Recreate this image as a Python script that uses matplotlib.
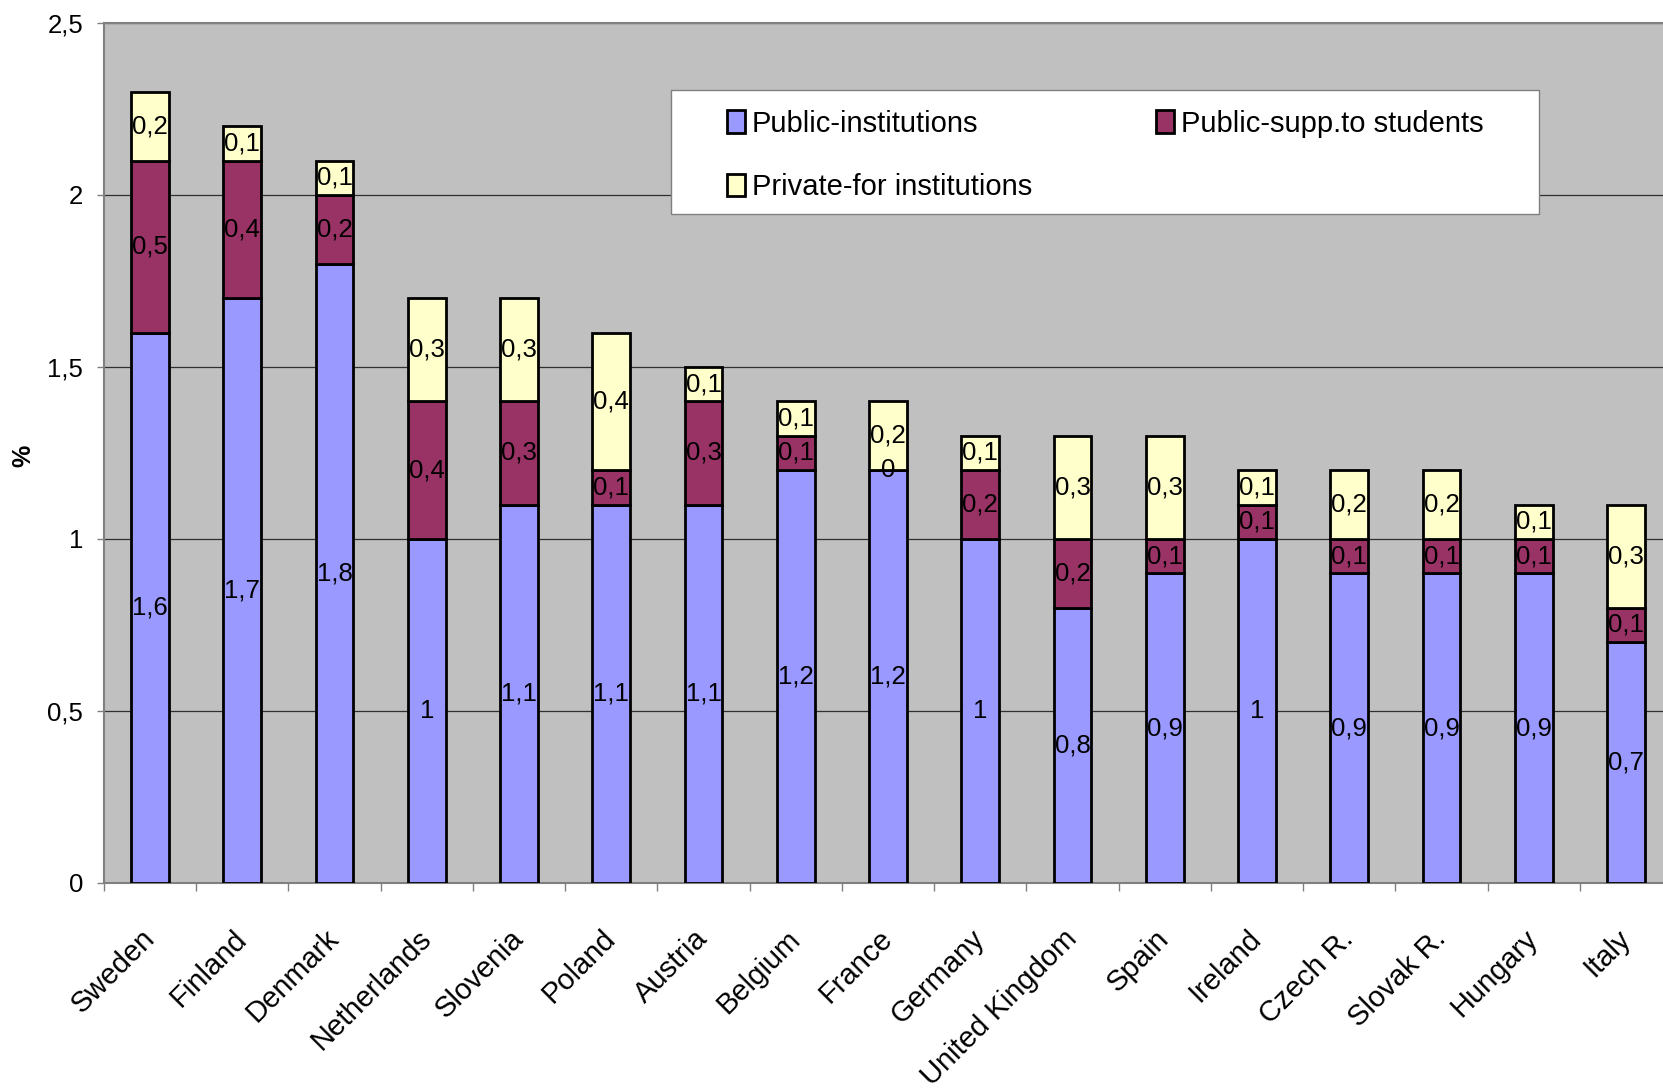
import numpy as np
import matplotlib
matplotlib.use("Agg")
import matplotlib.pyplot as plt
from matplotlib import font_manager
from matplotlib.patches import Rectangle, Patch
from matplotlib.ticker import FixedLocator, FuncFormatter

plt.rcParams['font.family'] = ['Liberation Sans', 'DejaVu Sans']

countries = ['Sweden', 'Finland', 'Denmark', 'Netherlands', 'Slovenia', 'Poland',
             'Austria', 'Belgium', 'France', 'Germany', 'United Kingdom', 'Spain',
             'Ireland', 'Czech R.', 'Slovak R.', 'Hungary', 'Italy']
public_inst = [1.6, 1.7, 1.8, 1.0, 1.1, 1.1, 1.1, 1.2, 1.2, 1.0, 0.8, 0.9, 1.0, 0.9, 0.9, 0.9, 0.7]
public_supp = [0.5, 0.4, 0.2, 0.4, 0.3, 0.1, 0.3, 0.1, 0.0, 0.2, 0.2, 0.1, 0.1, 0.1, 0.1, 0.1, 0.1]
private_inst = [0.2, 0.1, 0.1, 0.3, 0.3, 0.4, 0.1, 0.1, 0.2, 0.1, 0.3, 0.3, 0.1, 0.2, 0.2, 0.1, 0.3]

series_names = ['Public-institutions', 'Public-supp.to students', 'Private-for institutions']
colors = ['#9999FF', '#993366', '#FFFFCC']


def fmt(v):
    return f"{v:g}".replace('.', ',')


# narrow font for the legend if it is there
installed = {f.name for f in font_manager.fontManager.ttflist}
if 'Liberation Sans Narrow' in installed:
    leg_font = dict(family='Liberation Sans Narrow', size=25)
    leg_opts = dict(handlelength=0.52, handleheight=0.66, handletextpad=0.21,
                    labelspacing=0.62, columnspacing=3.86)
else:
    leg_font = dict(family='Liberation Sans', size=21)
    leg_opts = dict(handlelength=0.62, handleheight=0.8, handletextpad=0.25,
                    labelspacing=1.22, columnspacing=4.25)

fig = plt.figure(figsize=(16.63, 10.91), dpi=100)
ax = fig.add_axes([0.0625, 0.1907, 0.943, 0.7883])
ax.set_facecolor('#C0C0C0')

x = np.arange(len(countries))
width = 0.41
bottom = np.zeros(len(countries))
for vals, col in zip([public_inst, public_supp, private_inst], colors):
    vals = np.array(vals)
    ax.bar(x, vals, width, bottom=bottom, color=col, edgecolor='black',
           linewidth=2, zorder=3)
    for xi, b, v in zip(x, bottom, vals):
        ax.text(xi, b + v / 2, fmt(v), ha='center', va='center',
                fontsize=18.5, color='black', zorder=4)
    bottom = bottom + vals

ax.set_xlim(-0.5, len(countries) - 0.5)
ax.set_ylim(0, 2.5)

# y axis
ax.set_yticks(np.arange(0, 2.51, 0.5))
ax.yaxis.set_major_formatter(FuncFormatter(lambda v, p: fmt(round(v, 1))))
ax.tick_params(axis='y', length=5, width=1, color='#808080', pad=10, labelsize=18.5)
ax.grid(axis='y', color='#303030', linewidth=0.9, zorder=1)
ax.set_ylabel('%', fontsize=18, fontweight='bold')
ax.yaxis.set_label_coords(-0.044, 0.497)

# x axis: tick marks on category boundaries, labels at centres
ax.xaxis.set_major_locator(FixedLocator(np.arange(-0.5, len(countries), 1.0)))
ax.xaxis.set_major_formatter(FuncFormatter(lambda v, p: ''))
ax.xaxis.set_minor_locator(FixedLocator(x))
ax.set_xticklabels(countries, minor=True, rotation=45, ha='right', va='center',
                   rotation_mode='anchor', fontsize=21)
ax.tick_params(axis='x', which='major', length=6, width=1, color='#808080')
ax.tick_params(axis='x', which='minor', length=0, pad=37)

for side in ['left', 'bottom', 'top', 'right']:
    ax.spines[side].set_color('#808080')
    ax.spines[side].set_linewidth(1.5)

# legend box
ax.add_patch(Rectangle((0.3616, 0.778), 0.5536, 0.144, transform=ax.transAxes,
                       facecolor='white', edgecolor='#808080', linewidth=1,
                       zorder=5))
handles = [Patch(facecolor=c, edgecolor='black', linewidth=2) for c in colors]
order = [0, 2, 1]
leg = ax.legend([handles[i] for i in order], [series_names[i] for i in order],
                ncol=2, loc='upper left', bbox_to_anchor=(0.397, 0.899),
                frameon=False, prop=leg_font, borderpad=0, borderaxespad=0,
                **leg_opts)
leg.set_zorder(6)

fig.savefig('out.png', dpi=100)
